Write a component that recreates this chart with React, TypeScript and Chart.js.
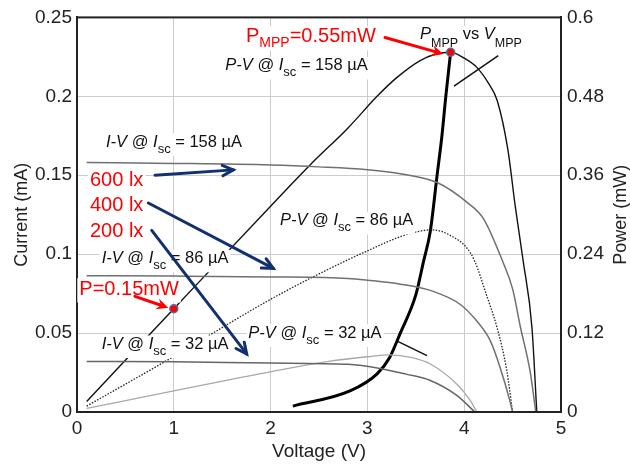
import React, { useEffect, useRef } from "react";
import { Chart, registerables } from "chart.js";
Chart.register(...registerables);

const FAM = '"Liberation Sans", Arial, Helvetica, sans-serif';

// ---- ticks ----
const xTicks = [0, 1, 2, 3, 4, 5];
const xTickLabels = ["0", "1", "2", "3", "4", "5"];
const currentTicks = [0, 0.05, 0.1, 0.15, 0.2, 0.25];
const currentTickLabels = ["0", "0.05", "0.1", "0.15", "0.2", "0.25"];
const powerTicks = [0, 0.12, 0.24, 0.36, 0.48, 0.6];
const powerTickLabels = ["0", "0.12", "0.24", "0.36", "0.48", "0.6"];

// ---- I-V curves (mA) ----
const iv158V = [0.1, 1, 2, 2.5, 3.0, 3.34, 3.72, 4.03, 4.2, 4.4, 4.5, 4.58, 4.68, 4.74];
const iv158I = [0.158, 0.1575, 0.1565, 0.1553, 0.1535, 0.151, 0.1454, 0.1328, 0.1224, 0.095, 0.078, 0.054, 0.026, 0];
const iv86V = [0.1, 1, 2, 2.8, 3.0, 3.34, 3.68, 3.96, 4.13, 4.27, 4.37, 4.47, 4.5];
const iv86I = [0.0863, 0.0861, 0.0856, 0.0846, 0.0835, 0.081, 0.0764, 0.0681, 0.0576, 0.0451, 0.0284, 0.0075, 0];
const iv32V = [0.1, 1, 2, 2.8, 3.13, 3.4, 3.65, 3.92, 4.11];
const iv32I = [0.032, 0.0318, 0.031, 0.0302, 0.0276, 0.024, 0.02, 0.0107, 0];

// ---- P-V curves (mW) ----
const pv158V = [0.1, 1, 2, 2.41, 2.8, 3.1, 3.3, 3.54, 3.7, 3.86, 4.0, 4.13, 4.25, 4.34, 4.45, 4.53, 4.61, 4.7, 4.75];
const pv158P = [0.016, 0.157, 0.313, 0.376, 0.432, 0.48, 0.508, 0.534, 0.544, 0.547, 0.538, 0.524, 0.5, 0.474, 0.4, 0.31, 0.229, 0.128, 0];
const pv86V = [0.1, 0.96, 1.96, 2.5, 3.0, 3.41, 3.67, 3.85, 4.03, 4.11, 4.23, 4.34, 4.44, 4.5];
const pv86P = [0.009, 0.081, 0.168, 0.21, 0.245, 0.27, 0.277, 0.269, 0.249, 0.229, 0.178, 0.128, 0.063, 0];
const pv32V = [0.1, 1, 2.1, 2.6, 3.0, 3.23, 3.45, 3.65, 3.92, 4.06, 4.13];
const pv32P = [0.0056, 0.032, 0.064, 0.077, 0.084, 0.087, 0.083, 0.073, 0.043, 0.018, 0];

// ---- MPP locus (mW) ----
const mppV = [2.23, 2.82, 3.1, 3.23, 3.34, 3.5, 3.58, 3.65, 3.72, 3.77, 3.81, 3.86];
const mppP = [0.009, 0.032, 0.058, 0.083, 0.12, 0.178, 0.229, 0.275, 0.36, 0.42, 0.48, 0.547];

// ---- highlighted points (V, mW) ----
const dotV = [3.86, 1.0];
const dotP = [0.547, 0.157];

type Seg = { t: string; it?: boolean; sub?: boolean };
type Label = { v: number; i: number; segs: Seg[]; color: string; size: number; subSize: number; subDy: number };

// labels anchored at left/baseline in (V, mA)
const labels: Label[] = [
  { v: 0.3, i: 0.1679, color: "#111", size: 16.5, subSize: 13, subDy: 6, segs: [{ t: "I-V", it: true }, { t: " @ " }, { t: "I", it: true }, { t: "sc", sub: true }, { t: " = 158 µA" }] },
  { v: 1.532, i: 0.2164, color: "#111", size: 16.5, subSize: 13, subDy: 6, segs: [{ t: "P-V", it: true }, { t: " @ " }, { t: "I", it: true }, { t: "sc", sub: true }, { t: " = 158 µA" }] },
  { v: 0.255, i: 0.0942, color: "#111", size: 16.5, subSize: 13, subDy: 6, segs: [{ t: "I-V", it: true }, { t: " @ " }, { t: "I", it: true }, { t: "sc", sub: true }, { t: " = 86 µA" }] },
  { v: 2.097, i: 0.1182, color: "#111", size: 16.5, subSize: 13, subDy: 6, segs: [{ t: "P-V", it: true }, { t: " @ " }, { t: "I", it: true }, { t: "sc", sub: true }, { t: " = 86 µA" }] },
  { v: 0.255, i: 0.0399, color: "#111", size: 16.5, subSize: 13, subDy: 6, segs: [{ t: "I-V", it: true }, { t: " @ " }, { t: "I", it: true }, { t: "sc", sub: true }, { t: " = 32 µA" }] },
  { v: 1.77, i: 0.047, color: "#111", size: 16.5, subSize: 13, subDy: 6, segs: [{ t: "P-V", it: true }, { t: " @ " }, { t: "I", it: true }, { t: "sc", sub: true }, { t: " = 32 µA" }] },
  { v: 3.543, i: 0.2362, color: "#111", size: 16.5, subSize: 12.5, subDy: 8, segs: [{ t: "P", it: true }, { t: "MPP", sub: true }, { t: " vs " }, { t: "V", it: true }, { t: "MPP", sub: true }] },
  { v: 1.746, i: 0.2341, color: "#ff0000", size: 20, subSize: 14, subDy: 5, segs: [{ t: "P" }, { t: "MPP", sub: true }, { t: "=0.55mW" }] },
  { v: 0.134, i: 0.1433, color: "#ff0000", size: 20, subSize: 14, subDy: 5, segs: [{ t: "600 lx" }] },
  { v: 0.134, i: 0.1276, color: "#ff0000", size: 20, subSize: 14, subDy: 5, segs: [{ t: "400 lx" }] },
  { v: 0.134, i: 0.1109, color: "#ff0000", size: 20, subSize: 14, subDy: 5, segs: [{ t: "200 lx" }] },
  { v: 0.024, i: 0.0744, color: "#ff0000", size: 20, subSize: 14, subDy: 5, segs: [{ t: "P=0.15mW" }] },
];

// leader lines (V, mA)
const leaderFromV = [4.352, 3.303];
const leaderFromI = [0.2258, 0.0451];
const leaderToV = [3.895, 3.616];
const leaderToI = [0.2064, 0.0357];

// navy arrows (V, mA)
const navyFromV = [0.806, 0.737, 0.772];
const navyFromI = [0.15, 0.1324, 0.1151];
const navyToV = [1.615, 2.028, 1.753];
const navyToI = [0.1534, 0.091, 0.0368];

// red arrows (V, mA)
const redFromV = [3.182, 0.599];
const redFromI = [0.2373, 0.0733];
const redToV = [3.784, 0.943];
const redToI = [0.2268, 0.066];

function pts(xs: number[], ys: number[]) {
  return xs.map((x, k) => ({ x, y: ys[k] }));
}

function drawRich(ctx: CanvasRenderingContext2D, x: number, y: number, l: Label) {
  const parts = l.segs.map((s) => {
    const font = `${s.it ? "italic " : ""}${s.sub ? l.subSize : l.size}px ${FAM}`;
    ctx.font = font;
    return { ...s, font, w: ctx.measureText(s.t).width };
  });
  const total = parts.reduce((a, p) => a + p.w, 0);
  ctx.fillStyle = "#ffffff";
  ctx.fillRect(x - 2, y - l.size * 0.82, total + 4, l.size * 0.82 + l.subDy + 3);
  let cx = x;
  ctx.fillStyle = l.color;
  ctx.textBaseline = "alphabetic";
  ctx.textAlign = "left";
  for (const p of parts) {
    ctx.font = p.font;
    ctx.fillText(p.t, cx, y + (p.sub ? l.subDy : 0));
    cx += p.w;
  }
}

function arrow(ctx: CanvasRenderingContext2D, x1: number, y1: number, x2: number, y2: number, color: string, w: number, head: number, filled: boolean) {
  const a = Math.atan2(y2 - y1, x2 - x1);
  ctx.strokeStyle = color;
  ctx.fillStyle = color;
  ctx.lineWidth = w;
  ctx.lineCap = "round";
  ctx.beginPath();
  ctx.moveTo(x1, y1);
  ctx.lineTo(filled ? x2 - Math.cos(a) * head * 0.6 : x2, filled ? y2 - Math.sin(a) * head * 0.6 : y2);
  ctx.stroke();
  const spread = 0.45;
  if (filled) {
    ctx.beginPath();
    ctx.moveTo(x2, y2);
    ctx.lineTo(x2 - head * Math.cos(a - spread), y2 - head * Math.sin(a - spread));
    ctx.lineTo(x2 - head * 0.6 * Math.cos(a), y2 - head * 0.6 * Math.sin(a));
    ctx.lineTo(x2 - head * Math.cos(a + spread), y2 - head * Math.sin(a + spread));
    ctx.closePath();
    ctx.fill();
  } else {
    ctx.lineJoin = "miter";
    ctx.beginPath();
    ctx.moveTo(x2 - head * Math.cos(a - spread), y2 - head * Math.sin(a - spread));
    ctx.lineTo(x2, y2);
    ctx.lineTo(x2 - head * Math.cos(a + spread), y2 - head * Math.sin(a + spread));
    ctx.stroke();
  }
}

const overlay = {
  id: "overlay",
  afterDatasetsDraw(chart: any) {
    const ctx: CanvasRenderingContext2D = chart.ctx;
    const sx = chart.scales.x, sy = chart.scales.y, sp = chart.scales.y2;
    const ca = chart.chartArea;
    ctx.save();
    // frame
    ctx.strokeStyle = "#222";
    ctx.lineWidth = 2;
    ctx.strokeRect(ca.left, ca.top, ca.right - ca.left, ca.bottom - ca.top);
    // labels
    for (const l of labels) drawRich(ctx, sx.getPixelForValue(l.v), sy.getPixelForValue(l.i), l);
    // leaders
    ctx.strokeStyle = "#111";
    ctx.lineWidth = 1.5;
    for (let k = 0; k < leaderFromV.length; k++) {
      ctx.beginPath();
      ctx.moveTo(sx.getPixelForValue(leaderFromV[k]), sy.getPixelForValue(leaderFromI[k]));
      ctx.lineTo(sx.getPixelForValue(leaderToV[k]), sy.getPixelForValue(leaderToI[k]));
      ctx.stroke();
    }
    // navy arrows
    for (let k = 0; k < navyFromV.length; k++) {
      arrow(ctx, sx.getPixelForValue(navyFromV[k]), sy.getPixelForValue(navyFromI[k]), sx.getPixelForValue(navyToV[k]), sy.getPixelForValue(navyToI[k]), "#12306f", 3, 12, false);
    }
    for (let k = 0; k < redFromV.length; k++) {
      arrow(ctx, sx.getPixelForValue(redFromV[k]), sy.getPixelForValue(redFromI[k]), sx.getPixelForValue(redToV[k]), sy.getPixelForValue(redToI[k]), "#ff0000", 3, 13, true);
    }
    // dots
    for (let k = 0; k < dotV.length; k++) {
      ctx.beginPath();
      ctx.arc(sx.getPixelForValue(dotV[k]), sp.getPixelForValue(dotP[k]), 4, 0, Math.PI * 2);
      ctx.fillStyle = "#ff0000";
      ctx.fill();
      ctx.strokeStyle = "#4f6fa8";
      ctx.lineWidth = 1.5;
      ctx.stroke();
    }
    // axis titles
    ctx.fillStyle = "#222";
    ctx.font = `18px ${FAM}`;
    ctx.textAlign = "center";
    ctx.textBaseline = "middle";
    const cy = (ca.top + ca.bottom) / 2;
    ctx.save();
    ctx.translate(ca.left - 55, cy);
    ctx.rotate(-Math.PI / 2);
    ctx.fillText("Current (mA)", 0, 0);
    ctx.restore();
    ctx.save();
    ctx.translate(ca.right + 60, cy);
    ctx.rotate(-Math.PI / 2);
    ctx.fillText("Power (mW)", 0, 0);
    ctx.restore();
    ctx.font = `19px ${FAM}`;
    ctx.textBaseline = "alphabetic";
    ctx.fillText("Voltage (V)", (ca.left + ca.right) / 2 + 0, ca.bottom + 45);
    ctx.restore();
  },
};

export default function App() {
  const ref = useRef<HTMLCanvasElement | null>(null);
  useEffect(() => {
    if (!ref.current) return;
    const tickFont = { family: FAM, size: 19 };
    const chart = new Chart(ref.current, {
      type: "line",
      data: {
        datasets: [
          { data: pts(iv158V, iv158I), yAxisID: "y", borderColor: "#707070", borderWidth: 1.5 },
          { data: pts(iv86V, iv86I), yAxisID: "y", borderColor: "#707070", borderWidth: 1.5 },
          { data: pts(iv32V, iv32I), yAxisID: "y", borderColor: "#666666", borderWidth: 1.5 },
          { data: pts(pv32V, pv32P), yAxisID: "y2", borderColor: "#a8a8a8", borderWidth: 1.3 },
          { data: pts(pv86V, pv86P), yAxisID: "y2", borderColor: "#222222", borderWidth: 1.3, borderDash: [1.5, 1.5] },
          { data: pts(pv158V, pv158P), yAxisID: "y2", borderColor: "#111111", borderWidth: 1.4 },
          { data: pts(mppV, mppP), yAxisID: "y2", borderColor: "#000000", borderWidth: 3, cubicInterpolationMode: "monotone" },
        ] as any,
      },
      options: {
        animation: false,
        responsive: false,
        events: [],
        layout: { padding: { top: 13, left: 0, right: 0, bottom: 0 } },
        elements: { point: { radius: 0 }, line: { tension: 0.35, fill: false, cubicInterpolationMode: "monotone" } },
        plugins: { legend: { display: false }, tooltip: { enabled: false }, title: { display: false } },
        scales: {
          x: {
            type: "linear", min: 0, max: 5,
            afterFit: (s: any) => { s.height = 54; },
            afterBuildTicks: (s: any) => { s.ticks = xTicks.map((v) => ({ value: v })); },
            ticks: { font: tickFont, color: "#222", padding: 5, maxRotation: 0, callback: (v: any) => xTickLabels[xTicks.indexOf(Number(v))] ?? "" },
            grid: { color: "#cccccc", lineWidth: 1, drawTicks: false },
            border: { color: "#222", width: 2 },
          },
          y: {
            type: "linear", position: "left", min: 0, max: 0.25,
            afterFit: (s: any) => { s.width = 77; },
            afterBuildTicks: (s: any) => { s.ticks = currentTicks.map((v) => ({ value: v })); },
            ticks: { font: tickFont, color: "#222", padding: 5, callback: (v: any, i: number) => currentTickLabels[i] ?? "" },
            grid: { color: "#cccccc", lineWidth: 1, drawTicks: false },
            border: { color: "#222", width: 2 },
          },
          y2: {
            type: "linear", position: "right", min: 0, max: 0.6,
            afterFit: (s: any) => { s.width = 69; },
            afterBuildTicks: (s: any) => { s.ticks = powerTicks.map((v) => ({ value: v })); },
            ticks: { font: tickFont, color: "#222", padding: 6, callback: (v: any, i: number) => powerTickLabels[i] ?? "" },
            grid: { display: false, drawTicks: false },
            border: { color: "#222", width: 2 },
          },
        },
      } as any,
      plugins: [overlay],
    });
    return () => chart.destroy();
  }, []);
  return (
    <div style={{ position: "fixed", left: 0, top: 0, width: 630, height: 466, background: "#fff" }}>
      <canvas ref={ref} width={630} height={466} style={{ display: "block", width: 630, height: 466 }} />
    </div>
  );
}
